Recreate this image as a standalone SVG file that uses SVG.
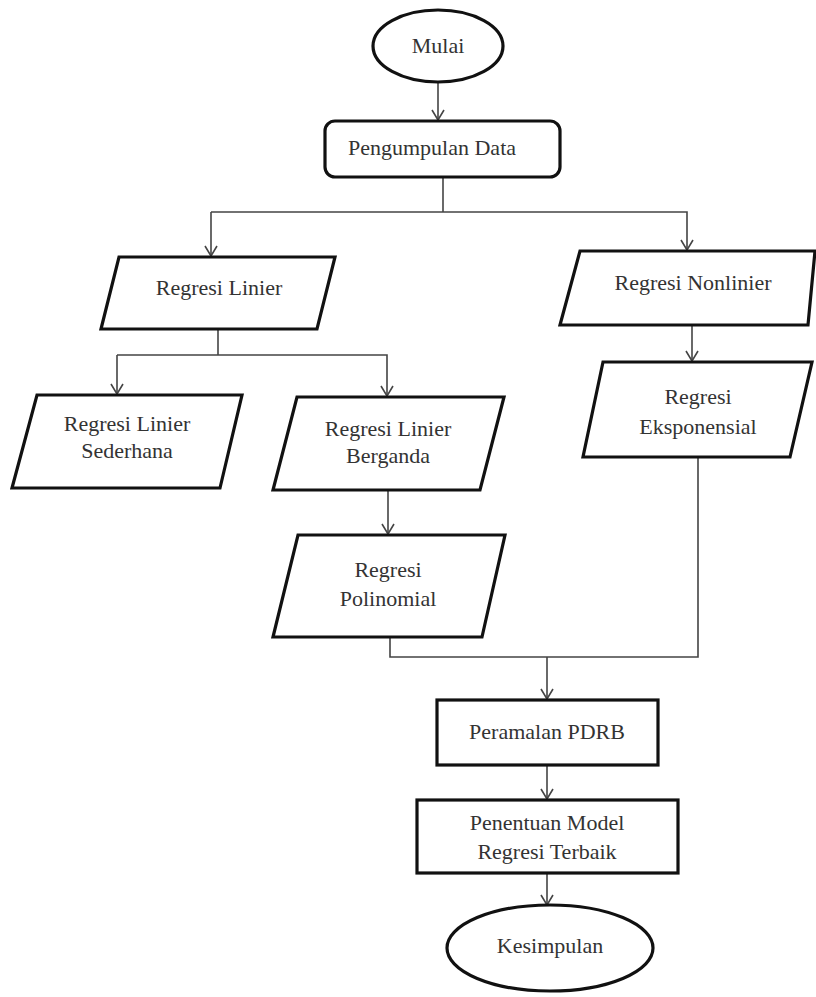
<svg xmlns="http://www.w3.org/2000/svg" width="816" height="997" viewBox="0 0 816 997">
<style>
.shape{fill:#fff;stroke:#111;stroke-width:3.2;stroke-linejoin:miter}
.conn{fill:none;stroke:#444;stroke-width:1.6}
text{font-family:"Liberation Serif","Times New Roman","DejaVu Serif",serif;font-size:22px;fill:#333;text-anchor:middle}
</style>
<defs>
<marker id="arr" viewBox="0 0 14 14" refX="13" refY="7" markerWidth="14" markerHeight="14" markerUnits="userSpaceOnUse" orient="auto">
<path d="M3,1 L13,7 L3,13" fill="none" stroke="#444" stroke-width="1.6"/>
</marker>
</defs>
<rect width="816" height="997" fill="#fff"/>
<g id="connectors">
<line class="conn" x1="438" y1="82" x2="438" y2="120" marker-end="url(#arr)"/>
<polyline class="conn" points="443,177 443,212"/>
<polyline class="conn" points="211,212 687,212 687,250" marker-end="url(#arr)"/>
<line class="conn" x1="211" y1="212" x2="211" y2="256" marker-end="url(#arr)"/>
<polyline class="conn" points="218,329 218,355"/>
<polyline class="conn" points="117,355 387,355 387,396" marker-end="url(#arr)"/>
<line class="conn" x1="117" y1="355" x2="117" y2="394" marker-end="url(#arr)"/>
<line class="conn" x1="692" y1="325" x2="692" y2="361" marker-end="url(#arr)"/>
<line class="conn" x1="388" y1="490" x2="388" y2="534" marker-end="url(#arr)"/>
<polyline class="conn" points="390,637 390,657 698,657 698,457"/>
<line class="conn" x1="547" y1="657" x2="547" y2="699" marker-end="url(#arr)"/>
<line class="conn" x1="547" y1="765" x2="547" y2="799" marker-end="url(#arr)"/>
<line class="conn" x1="547" y1="873" x2="547" y2="905" marker-end="url(#arr)"/>
</g>
<g id="mulai">
<ellipse class="shape" cx="438" cy="46" rx="65" ry="36"/>
<text x="438" y="53">Mulai</text>
</g>
<g id="pengumpulan">
<rect class="shape" x="325" y="121" width="235" height="56" rx="10"/>
<text x="432" y="155">Pengumpulan Data</text>
</g>
<g id="regresi-linier">
<polygon class="shape" points="119,257 335,257 317,329 101,329"/>
<text x="219" y="295">Regresi Linier</text>
</g>
<g id="regresi-nonlinier">
<polygon class="shape" points="580,251 815,251 808,325 560,325"/>
<text x="693" y="290">Regresi Nonlinier</text>
</g>
<g id="linier-sederhana">
<polygon class="shape" points="37,395 242,395 220,488 12,488"/>
<text x="127" y="431">Regresi Linier</text>
<text x="127" y="458">Sederhana</text>
</g>
<g id="linier-berganda">
<polygon class="shape" points="297,397 504,397 480,490 273,490"/>
<text x="388" y="436">Regresi Linier</text>
<text x="388" y="463">Berganda</text>
</g>
<g id="eksponensial">
<polygon class="shape" points="603,362 812,362 790,457 583,457"/>
<text x="698" y="404">Regresi</text>
<text x="698" y="434">Eksponensial</text>
</g>
<g id="polinomial">
<polygon class="shape" points="298,535 505,535 482,637 273,637"/>
<text x="388" y="577">Regresi</text>
<text x="388" y="606">Polinomial</text>
</g>
<g id="peramalan">
<rect class="shape" x="437" y="700" width="221" height="65"/>
<text x="547" y="739">Peramalan PDRB</text>
</g>
<g id="penentuan">
<rect class="shape" x="417" y="800" width="261" height="73"/>
<text x="547" y="830">Penentuan Model</text>
<text x="547" y="859">Regresi Terbaik</text>
</g>
<g id="kesimpulan">
<ellipse class="shape" cx="550" cy="948" rx="103" ry="43"/>
<text x="550" y="953">Kesimpulan</text>
</g>
</svg>
